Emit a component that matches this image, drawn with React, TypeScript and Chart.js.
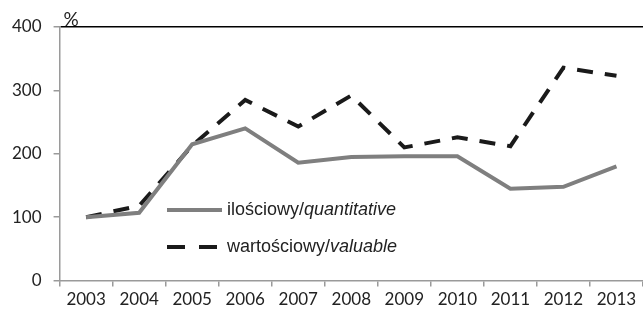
import React, { useEffect, useRef } from "react";
import { Chart, registerables } from "chart.js";

Chart.register(...registerables);

const years = ["2003", "2004", "2005", "2006", "2007", "2008", "2009", "2010", "2011", "2012", "2013"];
const quantitative = [100, 107, 215, 240, 186, 195, 196, 196, 145, 148, 180];
const valuable = [100, 118, 213, 285, 243, 292, 210, 226, 212, 336, 323];
const yTicks = [0, 100, 200, 300, 400];
const legendNormal = ["ilościowy/", "wartościowy/"];
const legendItalic = ["quantitative", "valuable"];
const unitLabel = "%";

const GRAY = "#7f7f7f";
const BLACK = "#1a1a1a";
const DASH = [16, 12];
const AXIS_FONT = "Lato, 'Open Sans', sans-serif";
const LEGEND_FONT = "'Liberation Sans', Arial, sans-serif";

const overlayPlugin = {
  id: "overlay",
  afterDraw(chart: any) {
    const ctx = chart.ctx;
    const area = chart.chartArea;
    ctx.save();
    ctx.fillStyle = "#222";
    ctx.font = `19px ${AXIS_FONT}`;
    ctx.textBaseline = "alphabetic";
    ctx.textAlign = "left";
    ctx.fillText(unitLabel, area.left + 4, area.top - 1);

    const lx = 167;
    const ys = [210, 247];
    const styles = [
      { color: GRAY, dash: [] as number[], len: 55 },
      { color: BLACK, dash: [18, 14], len: 52 },
    ];
    for (let i = 0; i < 2; i++) {
      const y = ys[i];
      ctx.beginPath();
      ctx.setLineDash(styles[i].dash);
      ctx.strokeStyle = styles[i].color;
      ctx.lineWidth = 4;
      ctx.lineCap = "butt";
      ctx.moveTo(lx, y);
      ctx.lineTo(lx + styles[i].len, y);
      ctx.stroke();
      ctx.setLineDash([]);
      ctx.fillStyle = "#222";
      ctx.textBaseline = "middle";
      ctx.font = `18px ${LEGEND_FONT}`;
      let tx = 227;
      ctx.fillText(legendNormal[i], tx, y);
      tx += ctx.measureText(legendNormal[i]).width;
      ctx.font = `italic 18px ${LEGEND_FONT}`;
      ctx.fillText(legendItalic[i], tx, y);
    }
    ctx.restore();
  },
};

export default function App() {
  const ref = useRef<HTMLCanvasElement>(null);
  useEffect(() => {
    if (!ref.current) return;
    const chart = new Chart(ref.current, {
      type: "line",
      data: {
        labels: years,
        datasets: [
          {
            label: "ilościowy/quantitative",
            data: quantitative,
            borderColor: GRAY,
            borderWidth: 4,
            pointRadius: 0,
            tension: 0,
            fill: false,
          },
          {
            label: "wartościowy/valuable",
            data: valuable,
            borderColor: BLACK,
            borderWidth: 4,
            borderDash: DASH,
            pointRadius: 0,
            tension: 0,
            fill: false,
          },
        ],
      },
      options: {
        animation: false,
        responsive: false,
        maintainAspectRatio: false,
        layout: { padding: { top: 27, right: 0, left: 0, bottom: 0 } },
        plugins: { legend: { display: false }, tooltip: { enabled: false } },
        scales: {
          x: {
            offset: true,
            grid: {
              display: true,
              offset: true,
              drawOnChartArea: false,
              tickLength: 6,
              tickColor: "#9a9a9a",
              lineWidth: 1.5,
            },
            border: { display: true, color: "#9a9a9a", width: 1.5 },
            ticks: {
              color: "#222",
              font: { family: AXIS_FONT, size: 17 },
              maxRotation: 0,
              autoSkip: false,
              padding: 3,
            },
          },
          y: {
            min: 0,
            max: 400,
            afterBuildTicks: (axis: any) => {
              axis.ticks = yTicks.map((v) => ({ value: v }));
            },
            grid: {
              display: true,
              drawOnChartArea: true,
              color: (c: any) => (c.tick && c.tick.value === 400 ? "#000" : "rgba(0,0,0,0)"),
              tickColor: "#9a9a9a",
              tickLength: 6,
              lineWidth: 1.5,
            },
            border: { display: true, color: "#9a9a9a", width: 1.5 },
            ticks: {
              color: "#222",
              font: { family: AXIS_FONT, size: 17 },
              padding: 12,
            },
          },
        },
      },
      plugins: [overlayPlugin],
    });
    return () => chart.destroy();
  }, []);
  return (
    <div style={{ position: "fixed", left: 0, top: 0, width: 643, height: 313, background: "#fff" }}>
      <canvas ref={ref} width={643} height={313} style={{ width: 643, height: 313 }} />
    </div>
  );
}
